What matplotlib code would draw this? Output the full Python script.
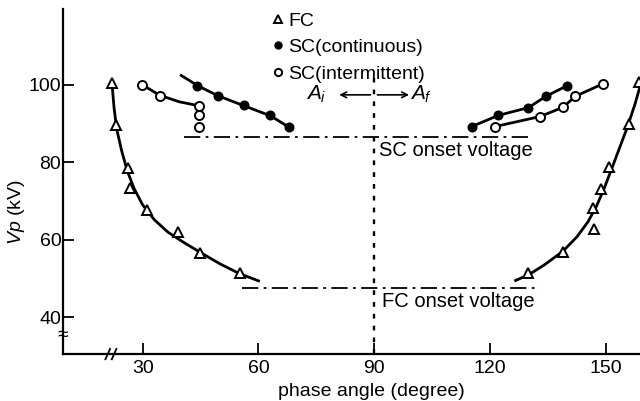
import numpy as np
import matplotlib
matplotlib.use("Agg")
import matplotlib.pyplot as plt

plt.rcParams['font.family'] = ['Liberation Sans', 'DejaVu Sans']
plt.rcParams['mathtext.fontset'] = 'custom'
plt.rcParams['mathtext.it'] = 'Liberation Sans:italic'
plt.rcParams['mathtext.rm'] = 'Liberation Sans'

# FC (triangles), left and right branches
fc_left_x = [22.0, 23.0, 26.2, 26.7, 31.0, 39.2, 44.8, 55.1]
fc_left_y = [100.4, 89.5, 78.5, 73.3, 67.7, 62.1, 56.7, 51.5]
fc_right_x = [129.9, 138.8, 146.9, 146.7, 148.7, 150.8, 156.0, 158.6]
fc_right_y = [51.5, 56.9, 62.7, 68.1, 73.0, 78.7, 89.8, 100.6]

# SC continuous (filled circles)
scc_left_x = [44.2, 49.4, 56.2, 63.1, 67.8]
scc_left_y = [99.8, 97.0, 94.7, 92.2, 89.1]
scc_right_x = [115.2, 122.1, 129.9, 134.4, 139.8]
scc_right_y = [89.2, 92.1, 94.1, 97.0, 99.7]

# SC intermittent (open circles)
sci_left_x = [29.9, 34.4, 44.5, 44.5, 44.5]
sci_left_y = [100.0, 97.2, 94.6, 92.1, 89.2]
sci_right_x = [121.2, 132.9, 138.9, 142.0, 149.3]
sci_right_y = [89.2, 91.8, 94.2, 97.0, 100.3]

# hand drawn fit curves (nodes)
fc_left_cx = [22.0, 22.6, 23.3, 24.5, 26.0, 27.8, 30.0, 33.0, 36.5, 40.5, 45.0, 50.0, 55.0, 60.0]
fc_left_cy = [101.0, 94.0, 88.5, 83.2, 77.8, 73.2, 69.0, 65.2, 62.0, 59.4, 56.7, 53.8, 51.3, 49.4]
fc_right_cx = [126.6, 130.0, 134.0, 138.8, 142.5, 145.3, 147.5, 149.5, 151.5, 153.5, 155.5, 157.5, 159.3]
fc_right_cy = [49.5, 51.0, 53.5, 57.0, 60.8, 64.6, 68.6, 73.2, 78.4, 83.7, 89.0, 95.0, 101.3]
scc_left_cx = [40.0, 44.2, 49.4, 56.2, 63.1, 67.8]
scc_left_cy = [102.4, 99.8, 97.2, 94.6, 92.0, 89.1]
sci_left_cx = [29.9, 34.4, 39.5, 44.5]
sci_left_cy = [100.0, 97.3, 95.6, 94.6]

fc_onset = 47.6
sc_onset = 86.6
fc_onset_span = [55.6, 132.9]
sc_onset_span = [40.7, 130.3]

fig = plt.figure(figsize=(6.4, 4.01), dpi=100)
ax = fig.add_axes([0.098, 0.117, 0.902, 0.861])

lw = 2.0
ax.plot(fc_left_cx, fc_left_cy, color='black', lw=lw)
ax.plot(fc_right_cx, fc_right_cy, color='black', lw=lw)
ax.plot(scc_left_cx, scc_left_cy, color='black', lw=lw)
ax.plot(scc_right_x, scc_right_y, color='black', lw=lw)
ax.plot(sci_left_cx, sci_left_cy, color='black', lw=lw)
ax.plot(sci_right_x, sci_right_y, color='black', lw=lw)

tri = dict(marker='^', ms=6.5, mfc='white', mec='black', mew=1.4, ls='none')
full = dict(marker='o', ms=6, mfc='black', mec='black', mew=1.2, ls='none')
hollow = dict(marker='o', ms=6.5, mfc='white', mec='black', mew=1.4, ls='none')

h_fc, = ax.plot(fc_left_x, fc_left_y, **tri, clip_on=False)
ax.plot(fc_right_x, fc_right_y, **tri)
h_scc, = ax.plot(scc_left_x, scc_left_y, **full)
ax.plot(scc_right_x, scc_right_y, **full)
h_sci, = ax.plot(sci_left_x, sci_left_y, **hollow)
ax.plot(sci_right_x, sci_right_y, **hollow)

# onset voltages
ax.hlines(sc_onset, *sc_onset_span, colors='black', lw=1.3, linestyles=(0, (9, 3, 1.5, 3)))
ax.hlines(fc_onset, *fc_onset_span, colors='black', lw=1.3, linestyles=(0, (9, 3, 1.5, 3)))
ax.text(91.3, sc_onset - 1.0, 'SC onset voltage', fontsize=14.5, va='top', ha='left')
ax.text(92.0, fc_onset - 1.0, 'FC onset voltage', fontsize=14.5, va='top', ha='left')

# 90 degree line and arrows
ax.vlines(90, 30.5, 101.8, colors='black', lw=1.7, linestyles=(0, (2, 3)))
ax.annotate('', xy=(80.9, 97.4), xytext=(89.0, 97.4),
            arrowprops=dict(arrowstyle='->', lw=1.2, color='black', shrinkA=0, shrinkB=0))
ax.annotate('', xy=(99.0, 97.4), xytext=(90.8, 97.4),
            arrowprops=dict(arrowstyle='->', lw=1.2, color='black', shrinkA=0, shrinkB=0))
ax.text(77.6, 97.4, '$A_i$', fontsize=15, ha='right', va='center')
ax.text(99.3, 97.4, '$A_f$', fontsize=15, ha='left', va='center')

ax.set_xlim(9.3, 158.8)
ax.set_ylim(30.5, 119.6)
ax.set_xticks([30, 60, 90, 120, 150])
ax.set_yticks([40, 60, 80, 100])
ax.tick_params(axis='both', direction='in', length=8, width=1.3, labelsize=14)
ax.tick_params(axis='x', pad=4)
ax.tick_params(axis='y', pad=1)
for s in ['top', 'right']:
    ax.spines[s].set_visible(False)
for s in ['left', 'bottom']:
    ax.spines[s].set_linewidth(1.6)

ax.set_xlabel('phase angle (degree)', fontsize=14)
ax.xaxis.set_label_coords(0.535, -0.085)
ax.set_ylabel(r'$\mathit{Vp}$ (kV)', fontsize=14)
ax.yaxis.set_label_coords(-0.062, 0.41)

# axis break marks
for bx in [0.078, 0.089]:
    ax.plot([bx - 0.004, bx + 0.004], [-0.015, 0.015], transform=ax.transAxes,
            color='black', lw=1.3, clip_on=False)
ax.text(0, 0.055, '≈', transform=ax.transAxes, ha='center', va='center', fontsize=14)

ax.legend([h_fc, h_scc, h_sci], ['FC', 'SC(continuous)', 'SC(intermittent)'],
          loc='upper left', bbox_to_anchor=(0.4257, 0.9695), bbox_transform=fig.transFigure,
          frameon=False, fontsize=14, handlelength=0.6, handletextpad=0.22,
          labelspacing=0.45, borderpad=0, borderaxespad=0, markerscale=0.8)

fig.savefig('out.png', dpi=100)
